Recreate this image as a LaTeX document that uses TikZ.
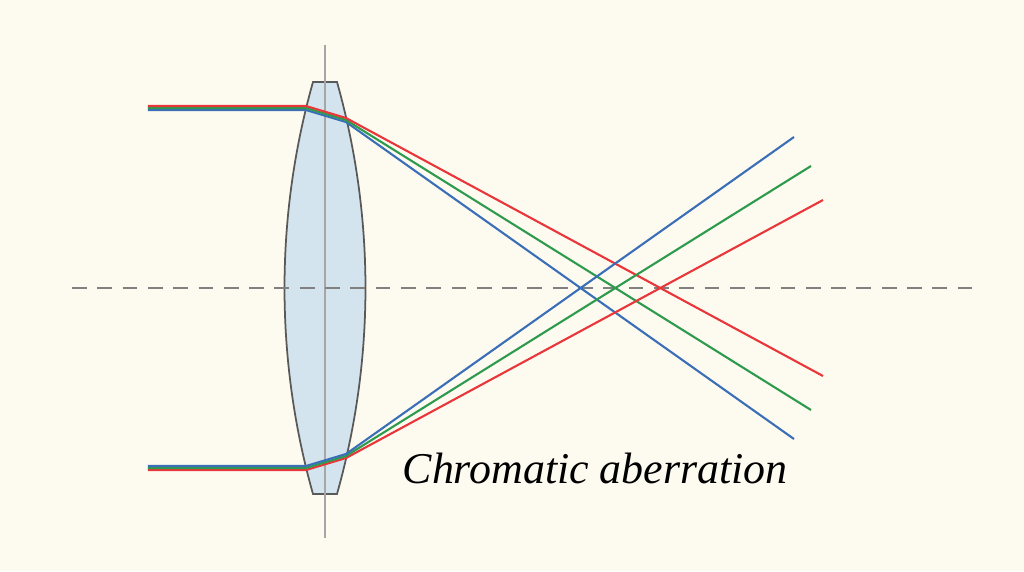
\documentclass[tikz,border=0pt]{standalone}
\usepackage{fontspec}
\setmainfont{Liberation Serif}
\usepackage{tikz}
\definecolor{bgcream}{RGB}{253,251,240}
\definecolor{lensblue}{RGB}{212,228,238}
\definecolor{rayred}{RGB}{232,54,58}
\definecolor{raygreen}{RGB}{46,154,78}
\definecolor{rayblue}{RGB}{58,111,184}
\tikzset{ray/.style={line width=0.6pt}}

\begin{document}
\begin{tikzpicture}
        \fill[bgcream] (-3.25,-2.83) rectangle (6.99,2.88);
        \useasboundingbox (-3.25,-2.83) rectangle (6.99,2.88);
        % lens
        \draw[fill=lensblue, draw=black!65, line width=0.5pt] (0.12,-2.06)
            arc[start angle=-15.75, end angle=15.75, radius=7.59] -- (-0.12,2.06)
            arc[start angle=164.25, end angle=195.75, radius=7.59] -- cycle;
        \draw[black!35, line width=0.6pt] (0,2.43) -- (0,-2.50);
        \draw[black!50, line width=0.6pt, dash pattern=on 4.2pt off 3pt] (-2.53,0) -- (6.50,0);
        % upper bundle
        \draw[ray, rayblue] (-1.77,1.78) -- (-0.19,1.78) -- (0.21,1.66) -- (4.69,-1.51);
        \draw[ray, raygreen] (-1.77,1.80) -- (-0.19,1.80) -- (0.21,1.68) -- (4.86,-1.22);
        \draw[ray, rayred] (-1.77,1.82) -- (-0.19,1.82) -- (0.21,1.70) -- (4.98,-0.88);
        % lower bundle
        \draw[ray, rayred] (-1.77,-1.82) -- (-0.19,-1.82) -- (0.21,-1.70) -- (4.98,0.88);
        \draw[ray, raygreen] (-1.77,-1.80) -- (-0.19,-1.80) -- (0.21,-1.68) -- (4.86,1.22);
        \draw[ray, rayblue] (-1.77,-1.78) -- (-0.19,-1.78) -- (0.21,-1.66) -- (4.69,1.51);
        \node[anchor=base west, inner sep=0pt] (caption) at (0.77,-1.95)
        {\fontsize{12.5}{15}\selectfont\itshape Chromatic aberration};
       \end{tikzpicture}
\end{document}
